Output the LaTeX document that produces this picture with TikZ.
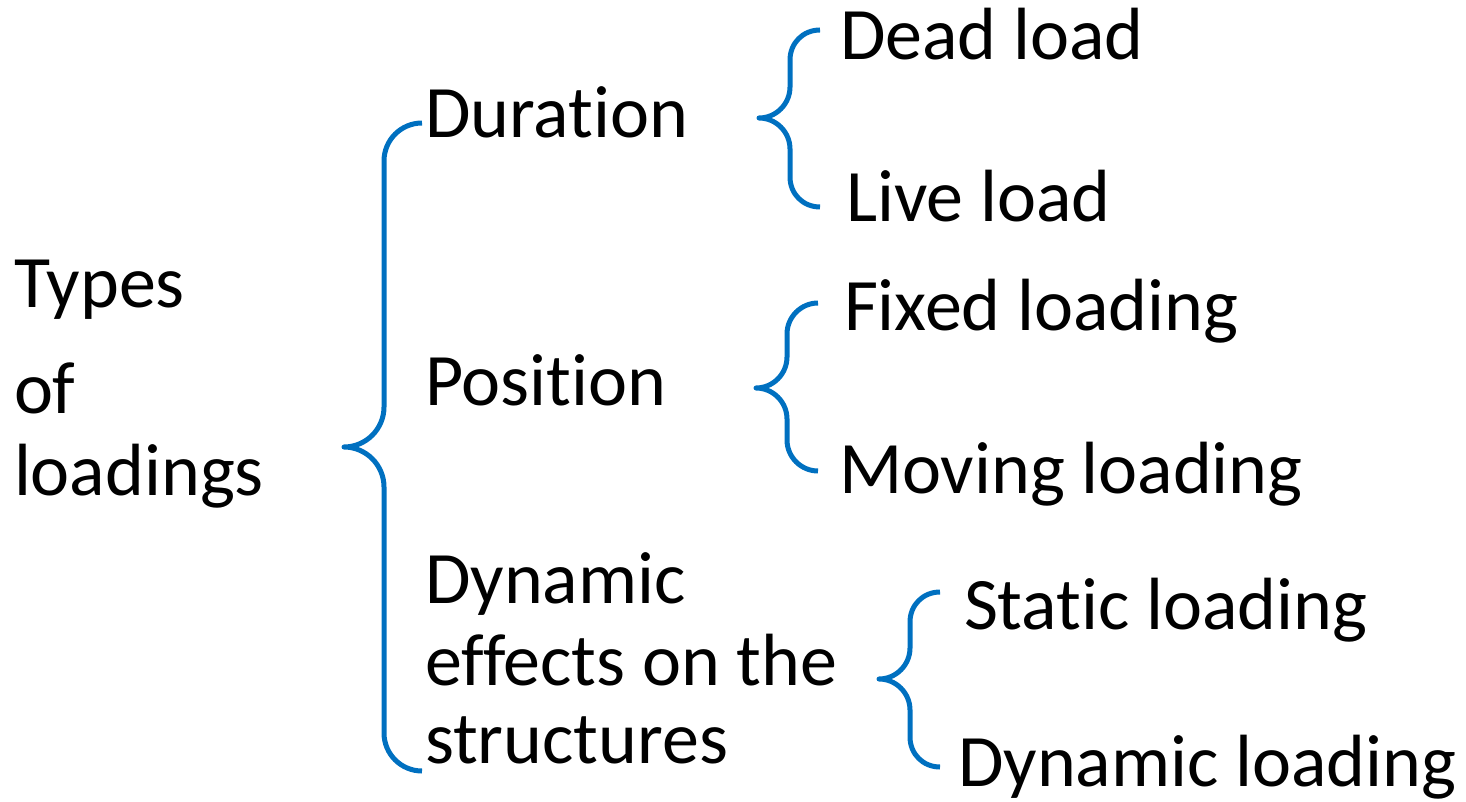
\documentclass[tikz,border=0pt]{standalone}
\usepackage{fontspec}
\setmainfont{Carlito}[RawFeature={-liga;-clig}]
\definecolor{braceblue}{HTML}{0070C0}
\begin{document}
\begin{tikzpicture}[x=0.5pt,y=-0.5pt,
  lbl/.style={anchor=base west,inner sep=0pt,outer sep=0pt,font=\fontsize{37pt}{44pt}\selectfont,text=black},
  brace/.style={draw=braceblue,line width=2.5pt,line cap=butt,line join=round}]
\useasboundingbox (0,0) rectangle (1466,802);
% root
\node[lbl] (types) at (14,307) {Types};
\node[lbl] (of) at (14,413) {of};
\node[lbl] (loadings) at (14,495) {loadings};
% categories
\node[lbl] (duration) at (425,138) {Duration};
\node[lbl] (position) at (425,405) {Position};
\node[lbl] (dyn1) at (425,603) {Dynamic};
\node[lbl] (dyn2) at (425,685) {effects on the};
\node[lbl] (dyn3) at (425,763) {structures};
% leaves
\node[lbl] (dead) at (840,60) {Dead load};
\node[lbl] (live) at (846,222) {Live load};
\node[lbl] (fixed) at (844,330) {Fixed loading};
\node[lbl] (moving) at (839,493) {Moving loading};
\node[lbl] (static) at (964,629) {Static loading};
\node[lbl] (dynload) at (958,786) {Dynamic loading};
% brace anchor coordinates
\coordinate (rootTip) at (344,447);
\coordinate (rootTop) at (422,123);
\coordinate (rootBot) at (422,771);
\coordinate (durTip) at (759,118);
\coordinate (durTop) at (820,30);
\coordinate (durBot) at (820,207);
\coordinate (posTip) at (756,388);
\coordinate (posTop) at (818,303);
\coordinate (posBot) at (818,471);
\coordinate (dynTip) at (879,679);
\coordinate (dynTop) at (940,592);
\coordinate (dynBot) at (940,767);
% braces
\path[brace] (rootTop) .. controls (401,123) and (384,140) .. (384,161) -- (384,407)
  .. controls (384,429) and (366,447) .. (rootTip)
  .. controls (366,447) and (384,465) .. (384,487) -- (384,733)
  .. controls (384,754) and (401,771) .. (rootBot);
\path[brace] (durTop) .. controls (803,30) and (790,43) .. (790,60) -- (790,87)
  .. controls (790,104) and (776,118) .. (durTip)
  .. controls (776,118) and (790,132) .. (790,149) -- (790,177)
  .. controls (790,194) and (803,207) .. (durBot);
\path[brace] (posTop) .. controls (801,303) and (787,317) .. (787,334) -- (787,357)
  .. controls (787,374) and (773,388) .. (posTip)
  .. controls (773,388) and (787,402) .. (787,419) -- (787,440)
  .. controls (787,457) and (801,471) .. (posBot);
\path[brace] (dynTop) .. controls (923,592) and (910,605) .. (910,622) -- (910,648)
  .. controls (910,665) and (896,679) .. (dynTip)
  .. controls (896,679) and (910,693) .. (910,710) -- (910,737)
  .. controls (910,754) and (923,767) .. (dynBot);
\end{tikzpicture}
\end{document}
